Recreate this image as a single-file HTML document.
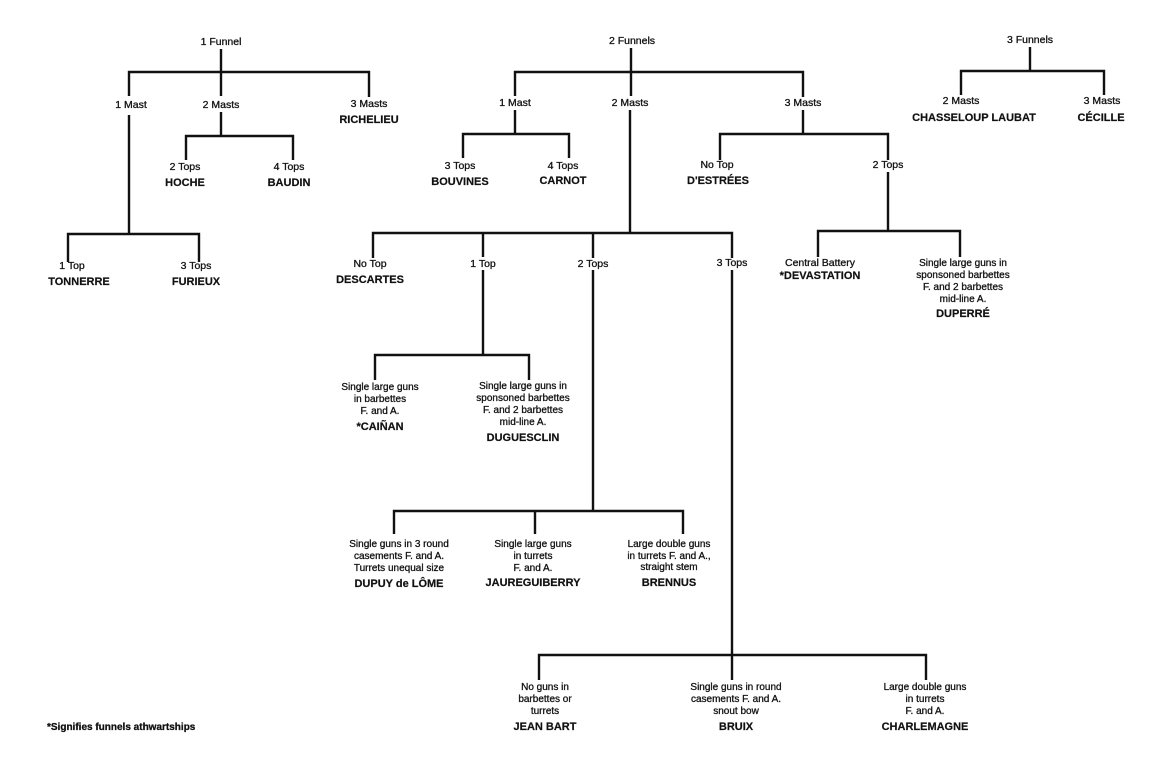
<!DOCTYPE html>
<html><head><meta charset="utf-8"><style>
html,body{margin:0;padding:0;background:#fff;}
svg{display:block;}
text{font-family:"Liberation Sans",sans-serif;font-size:10.5px;fill:#111;text-anchor:middle;stroke:#111;stroke-width:0.3;}
.n{font-weight:bold;font-size:11px;stroke-width:0.2;}
.s{font-size:10px;}
line,polyline{stroke:#111;stroke-width:2.4;fill:none;}
</style></head><body>
<svg width="1164" height="770" viewBox="0 0 1164 770">
<!-- 1 Funnel -->
<text x="221" y="45">1 Funnel</text>
<line x1="221" y1="49" x2="221" y2="72"/>
<polyline points="129,96 129,72 369,72 369,97"/>
<line x1="221" y1="72" x2="221" y2="96"/>
<text x="131" y="108">1 Mast</text>
<text x="221" y="108">2 Masts</text>
<text x="369" y="107">3 Masts</text>
<text class="n" x="369" y="123">RICHELIEU</text>
<line x1="221" y1="112" x2="221" y2="136"/>
<polyline points="186,160 186,136 293,136 293,160"/>
<text x="185" y="170">2 Tops</text><text class="n" x="185" y="186">HOCHE</text>
<text x="289" y="170">4 Tops</text><text class="n" x="289" y="186">BAUDIN</text>
<line x1="129" y1="115" x2="129" y2="234"/>
<polyline points="68,262 68,234 199,234 199,262"/>
<text x="72" y="269">1 Top</text><text class="n" x="79" y="285">TONNERRE</text>
<text x="196" y="269">3 Tops</text><text class="n" x="196" y="285">FURIEUX</text>

<!-- 2 Funnels -->
<text x="632" y="44">2 Funnels</text>
<line x1="631" y1="48" x2="631" y2="96"/>
<polyline points="515,96 515,72 803,72 803,97"/>
<text x="515" y="106">1 Mast</text>
<text x="630" y="106">2 Masts</text>
<text x="803" y="106">3 Masts</text>
<line x1="515" y1="110" x2="515" y2="134"/>
<polyline points="463,158 463,134 569,134 569,158"/>
<text x="460" y="169">3 Tops</text><text class="n" x="460" y="185">BOUVINES</text>
<text x="563" y="169">4 Tops</text><text class="n" x="563" y="184">CARNOT</text>
<line x1="803" y1="110" x2="803" y2="134"/>
<polyline points="720,160 720,134 888,134 888,160"/>
<text x="717" y="168">No Top</text><text class="n" x="718" y="184">D'ESTRÉES</text>
<text x="888" y="168">2 Tops</text>
<line x1="888" y1="172" x2="888" y2="231"/>
<polyline points="818,257 818,231 960,231 960,257"/>
<text x="820" y="266">Central Battery</text><text class="n" x="820" y="279">*DEVASTATION</text>
<text class="s" x="963" y="266">Single large guns in</text>
<text class="s" x="963" y="278">sponsoned barbettes</text>
<text class="s" x="963" y="290">F. and 2 barbettes</text>
<text class="s" x="963" y="302">mid-line A.</text>
<text class="n" x="963" y="317">DUPERRÉ</text>

<line x1="630" y1="110" x2="630" y2="233"/>
<polyline points="373,258 373,233 732,233 732,258"/>
<line x1="483" y1="233" x2="483" y2="257"/>
<line x1="593" y1="233" x2="593" y2="258"/>
<text x="370" y="267">No Top</text><text class="n" x="370" y="283">DESCARTES</text>
<text x="483" y="267">1 Top</text>
<text x="593" y="267">2 Tops</text>
<text x="732" y="266">3 Tops</text>

<line x1="483" y1="270" x2="483" y2="355"/>
<polyline points="375,380 375,355 529,355 529,380"/>
<text class="s" x="380" y="390">Single large guns</text>
<text class="s" x="380" y="402">in barbettes</text>
<text class="s" x="380" y="414">F. and A.</text>
<text class="n" x="380" y="430">*CAIÑAN</text>
<text class="s" x="523" y="389">Single large guns in</text>
<text class="s" x="523" y="401">sponsoned barbettes</text>
<text class="s" x="523" y="413">F. and 2 barbettes</text>
<text class="s" x="523" y="425">mid-line A.</text>
<text class="n" x="523" y="441">DUGUESCLIN</text>

<line x1="593" y1="270" x2="593" y2="511"/>
<polyline points="394,534 394,511 683,511 683,534"/>
<line x1="535" y1="511" x2="535" y2="534"/>
<text class="s" x="399" y="547">Single guns in 3 round</text>
<text class="s" x="399" y="559">casements F. and A.</text>
<text class="s" x="399" y="571">Turrets unequal size</text>
<text class="n" x="399" y="587">DUPUY de LÔME</text>
<text class="s" x="533" y="547">Single large guns</text>
<text class="s" x="533" y="559">in turrets</text>
<text class="s" x="533" y="571">F. and A.</text>
<text class="n" x="533" y="586">JAUREGUIBERRY</text>
<text class="s" x="669" y="547">Large double guns</text>
<text class="s" x="669" y="559">in turrets F. and A.,</text>
<text class="s" x="669" y="570">straight stem</text>
<text class="n" x="669" y="586">BRENNUS</text>

<line x1="732" y1="270" x2="732" y2="655"/>
<polyline points="539,680 539,655 926,655 926,680"/>
<line x1="732" y1="655" x2="732" y2="680"/>
<text class="s" x="545" y="690">No guns in</text>
<text class="s" x="545" y="702">barbettes or</text>
<text class="s" x="545" y="714">turrets</text>
<text class="n" x="545" y="730">JEAN BART</text>
<text class="s" x="736" y="690">Single guns in round</text>
<text class="s" x="736" y="702">casements F. and A.</text>
<text class="s" x="736" y="714">snout bow</text>
<text class="n" x="736" y="730">BRUIX</text>
<text class="s" x="925" y="690">Large double guns</text>
<text class="s" x="925" y="702">in turrets</text>
<text class="s" x="925" y="714">F. and A.</text>
<text class="n" x="925" y="730">CHARLEMAGNE</text>

<!-- 3 Funnels -->
<text x="1030" y="43">3 Funnels</text>
<line x1="1030" y1="47" x2="1030" y2="71"/>
<polyline points="961,95 961,71 1104,71 1104,95"/>
<text x="961" y="104">2 Masts</text><text class="n" x="974" y="121">CHASSELOUP LAUBAT</text>
<text x="1102" y="104">3 Masts</text><text class="n" x="1101" y="121">CÉCILLE</text>

<text class="s" x="47" y="730" style="text-anchor:start;font-weight:bold">*Signifies funnels athwartships</text>
</svg>
</body></html>
